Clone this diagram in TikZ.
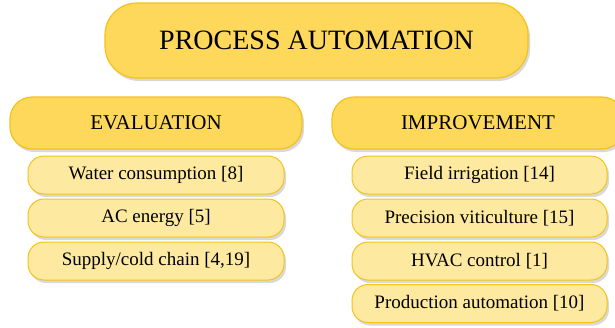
\documentclass[tikz,border=0pt]{standalone}
\usepackage{fontspec}
\setmainfont{Liberation Serif}
\usetikzlibrary{shadows}
\definecolor{hdrfill}{HTML}{FDD85B}
\definecolor{subfill}{HTML}{FEE9A0}
\definecolor{edge}{HTML}{F4C21A}
\tikzset{
  base/.style={draw=edge, line width=1.2pt, align=center, inner sep=0pt,
    drop shadow={shadow xshift=2pt, shadow yshift=-3pt, opacity=0.25, fill=black!60}},
  titlebox/.style={base, fill=hdrfill, minimum width=423pt, minimum height=75pt, rounded corners=32pt, font=\fontsize{28}{30}\selectfont},
  headbox/.style={base, fill=hdrfill, minimum width=292pt, minimum height=52pt, rounded corners=22pt, font=\fontsize{21}{23}\selectfont},
  itembox/.style={base, fill=subfill, line width=1pt, minimum width=256pt, minimum height=38pt, rounded corners=16pt, font=\fontsize{19}{21}\selectfont},
}
\begin{document}
\begin{tikzpicture}[x=1pt,y=-1pt]
\useasboundingbox (0,0) rectangle (615,327);
\clip (0,0) rectangle (615,327);
\node[titlebox] (top) at (316.5,40.5) {PROCESS AUTOMATION};
\node[headbox] (eval) at (156,123) {EVALUATION};
\node[headbox] (impr) at (478,123) {IMPROVEMENT};
\node[itembox] (e1) at (156,175) {Water consumption [8]};
\node[itembox] (e2) at (156,218) {AC energy [5]};
\node[itembox] (e3) at (156,261) {Supply/cold chain [4,19]};
\node[itembox, minimum width=255pt] (i1) at (479.5,175) {Field irrigation [14]};
\node[itembox, minimum width=255pt] (i2) at (479.5,218) {Precision viticulture [15]};
\node[itembox, minimum width=255pt] (i3) at (479.5,261) {HVAC control [1]};
\node[itembox, minimum width=255pt] (i4) at (479.5,303.5) {Production automation [10]};
\end{tikzpicture}
\end{document}
